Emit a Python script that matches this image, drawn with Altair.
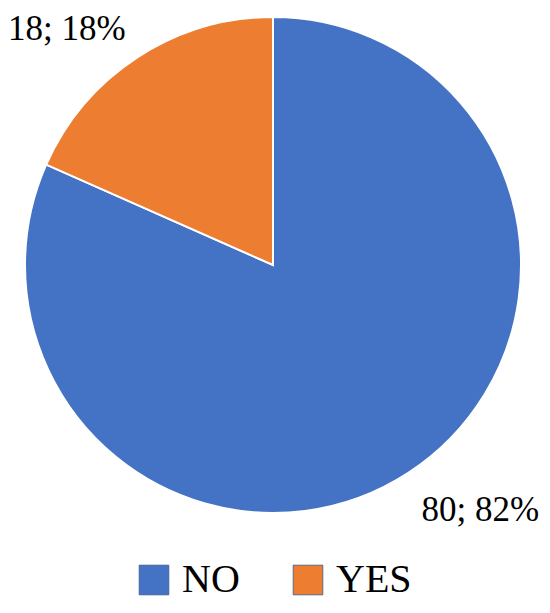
import altair as alt
import pandas as pd

categories = ["NO", "YES"]
counts = [80, 18]
percents = [82, 18]
colors = ["#4472C4", "#ED7D31"]

df = pd.DataFrame({"answer": categories, "count": counts, "pct": percents})
df["label"] = [f"{c}; {p}%" for c, p in zip(counts, percents)]
df["order"] = list(range(len(categories)))

cx, cy = 265, 257

base = alt.Chart(df).encode(
    theta=alt.Theta("count:Q", stack=True),
    order=alt.Order("order:Q"),
)

color = alt.Color(
    "answer:N",
    scale=alt.Scale(domain=categories, range=colors),
    legend=alt.Legend(
        title=None,
        orient="none",
        direction="horizontal",
        legendX=126,
        legendY=552,
        symbolType="square",
        symbolSize=880,
        symbolStrokeWidth=0.8,
        symbolStrokeColor="#3A5A8C",
        labelFont="Liberation Serif",
        labelFontSize=40,
        labelColor="#000000",
        labelOffset=8,
        columnPadding=48,
        padding=0,
    ),
)

pie = base.mark_arc(outerRadius=248, stroke="white", strokeWidth=2).encode(
    color=color,
    x=alt.value(cx),
    y=alt.value(cy),
)

lab_no = base.mark_text(
    radius=285, align="left", baseline="middle", dx=-7, dy=6,
    font="Liberation Serif", fontSize=35, color="#000000",
).encode(
    text="label:N", x=alt.value(cx), y=alt.value(cy),
    opacity=alt.condition(alt.datum.answer == "NO", alt.value(1), alt.value(0)),
)

lab_yes = base.mark_text(
    radius=283, align="right", baseline="middle", dx=7, dy=1,
    font="Liberation Serif", fontSize=35, color="#000000",
).encode(
    text="label:N", x=alt.value(cx), y=alt.value(cy),
    opacity=alt.condition(alt.datum.answer == "YES", alt.value(1), alt.value(0)),
)

chart = alt.layer(pie, lab_no, lab_yes).properties(
    width=534, height=597, padding=0,
    autosize=alt.AutoSizeParams(type="none"),
).configure_view(stroke=None)

chart.save("out.html", embed_options={"renderer": "svg", "actions": False})
